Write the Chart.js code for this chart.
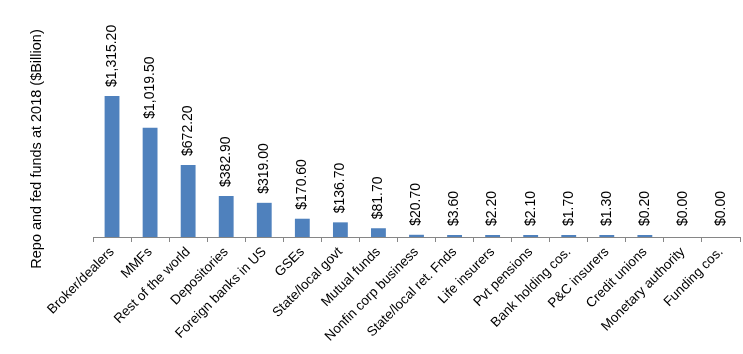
<!DOCTYPE html>
<html>
<head>
<meta charset="utf-8">
<script src="https://cdn.jsdelivr.net/npm/chart.js@4"></script>
<style>
html,body{margin:0;padding:0;background:#fff;}
#wrap{width:743px;height:354px;position:relative;}
</style>
</head>
<body>
<div id="wrap"><canvas id="c" width="743" height="354"></canvas></div>
<script>
const categories = ["Broker/dealers","MMFs","Rest of the world","Depositories","Foreign banks in US","GSEs","State/local govt","Mutual funds","Nonfin corp business","State/local ret. Fnds","Life insurers","Pvt pensions","Bank holding cos.","P&C insurers","Credit unions","Monetary authority","Funding cos."];
const values = [1315.2,1019.5,672.2,382.9,319.0,170.6,136.7,81.7,20.7,3.6,2.2,2.1,1.7,1.3,0.2,0.0,0.0];
const yTitle = "Repo and fed funds at 2018 ($Billion)";
const FONT = "'Liberation Sans', Arial, sans-serif";

const fmt = v => "$" + v.toLocaleString("en-US",{minimumFractionDigits:2,maximumFractionDigits:2});

const labelPlugin = {
  id: 'barLabels',
  afterDatasetsDraw(chart){
    const ctx = chart.ctx;
    const meta = chart.getDatasetMeta(0);
    ctx.save();
    ctx.font = "14px " + FONT;
    ctx.fillStyle = "#000";
    ctx.textAlign = "left";
    ctx.textBaseline = "middle";
    meta.data.forEach((bar,i)=>{
      ctx.save();
      ctx.translate(bar.x, Math.min(bar.y, chart.chartArea.bottom) - 9);
      ctx.rotate(-Math.PI/2);
      ctx.fillText(fmt(values[i]), 0, 0);
      ctx.restore();
    });
    // y-axis title, placed as in the reference
    ctx.font = "14.5px " + FONT;
    ctx.textAlign = "center";
    ctx.translate(37, 149);
    ctx.rotate(-Math.PI/2);
    ctx.fillText(yTitle, 0, 0);
    ctx.restore();
  }
};

new Chart(document.getElementById('c'), {
  type: 'bar',
  data: {
    labels: categories,
    datasets: [{
      data: values,
      backgroundColor: c => (values[c.dataIndex] > 0 ? '#4F81BD' : 'rgba(0,0,0,0)'),
      barPercentage: 0.78,
      categoryPercentage: 0.5,
      minBarLength: 2
    }]
  },
  options: {
    responsive: false,
    animation: false,
    devicePixelRatio: 1,
    layout: { padding: { top: 87, right: 3, left: 0, bottom: 0 } },
    plugins: { legend: { display: false }, tooltip: { enabled: false } },
    scales: {
      x: {
        afterFit(s){ s.height = 117; },
        grid: { display: true, drawOnChartArea: false, offset: true, color: '#868686', tickLength: 5 },
        border: { display: true, color: '#868686' },
        ticks: { color: '#000', font: { family: FONT, size: 13.5 }, maxRotation: 45, minRotation: 45, autoSkip: false, padding: 2 }
      },
      y: {
        min: 0, max: 1400,
        afterFit(s){ s.width = 93; },
        grid: { display: false },
        border: { display: false },
        ticks: { display: false },
        title: { display: false, text: yTitle }
      }
    }
  },
  plugins: [labelPlugin]
});
</script>
</body>
</html>
